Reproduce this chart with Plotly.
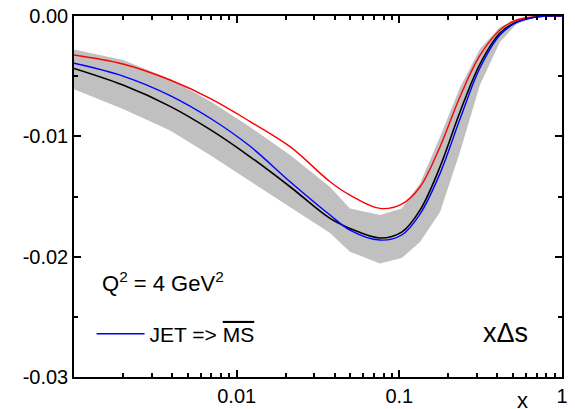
import plotly.graph_objects as go

# ---- data ----
x_vals = [0.001, 0.002, 0.0039, 0.007, 0.0121, 0.0213, 0.0375, 0.0497, 0.076, 0.1034,
          0.134, 0.178, 0.236, 0.313, 0.4155, 0.5265, 0.663, 0.84, 1.0]
y_black = [-0.00436, -0.00574, -0.00751, -0.00951, -0.0117, -0.01419, -0.01682, -0.01765,
           -0.01845, -0.01796, -0.01613, -0.01253, -0.00798, -0.00399, -0.00141, -0.0005,
           -0.00012, 0.0, 0.0]
y_blue = [-0.00393, -0.00499, -0.00661, -0.00856, -0.01083, -0.01377, -0.01654, -0.01779,
          -0.01862, -0.0182, -0.01646, -0.01308, -0.00856, -0.00432, -0.00158, -0.00054,
          -0.00012, 0.0, 0.0]
y_red = [-0.00324, -0.00399, -0.00532, -0.0069, -0.00877, -0.01086, -0.01377, -0.01488,
         -0.01599, -0.01563, -0.01421, -0.01086, -0.00671, -0.00328, -0.00116, -0.00033,
         -0.00008, 0.0, 0.0]
band_upper = [-0.00278, -0.00366, -0.00524, -0.00715, -0.00923, -0.01155, -0.01421, -0.01599,
              -0.01654, -0.01599, -0.01391, -0.01003, -0.00594, -0.00274, -0.00091, -0.00025,
              -0.00004, 0.0, 0.0]
band_lower = [-0.00609, -0.00773, -0.00952, -0.01164, -0.01376, -0.01588, -0.01804, -0.01959,
              -0.02056, -0.02012, -0.01879, -0.01629, -0.01131, -0.00574, -0.00216, -0.00067,
              -0.00017, 0.0, 0.0]

x_tickvals = [0.01, 0.1, 1]
x_ticktext = ["0.01", "0.1", "1"]
x_minor = [k * 10.0 ** e for e in (-3, -2, -1) for k in range(2, 10)]
y_tickvals = [0.0, -0.01, -0.02, -0.03]
y_ticktext = ["0.00", "-0.01", "-0.02", "-0.03"]
y_minor = [-0.005, -0.015, -0.025]

FONT = "Liberation Sans, Arial, sans-serif"
LINE_SPLINE = dict(shape="spline", smoothing=1.0)

fig = go.Figure()
fig.add_trace(go.Scatter(
    x=x_vals + x_vals[::-1], y=band_upper + band_lower[::-1],
    fill="toself", fillcolor="#c0c0c0", line=dict(width=0),
    mode="lines", showlegend=False, hoverinfo="skip"))
fig.add_trace(go.Scatter(x=x_vals, y=y_black, mode="lines", showlegend=False,
                         line=dict(color="black", width=1.6, **LINE_SPLINE)))
fig.add_trace(go.Scatter(x=x_vals, y=y_red, mode="lines", showlegend=False,
                         line=dict(color="#ff0000", width=1.4, **LINE_SPLINE)))
fig.add_trace(go.Scatter(x=x_vals, y=y_blue, mode="lines", showlegend=True,
                         name='JET => <span style="text-decoration:overline">MS</span>',
                         line=dict(color="#0000ff", width=1.4, **LINE_SPLINE)))
# empty trace so the minor-tick overlay axes exist
fig.add_trace(go.Scatter(x=[], y=[], xaxis="x2", yaxis="y2", showlegend=False,
                         hoverinfo="skip"))

base = dict(showline=True, linewidth=1.5, linecolor="black", mirror="ticks",
            showgrid=False, zeroline=False, automargin=False, tickcolor="black",
            ticks="inside", tickwidth=1.5)

fig.update_layout(
    template="simple_white",
    width=575, height=409,
    margin=dict(l=74, r=13, t=16, b=32),
    paper_bgcolor="white", plot_bgcolor="white",
    font=dict(family=FONT, color="black", size=20),
    legend=dict(x=0.036, y=0.119, xanchor="left", yanchor="middle",
                bgcolor="rgba(0,0,0,0)", borderwidth=0,
                font=dict(size=21, family=FONT), itemwidth=48),
    xaxis=dict(type="log", range=[-3, 0], tickvals=x_tickvals, ticktext=x_ticktext,
               ticklen=7, tickfont=dict(size=20, family=FONT), **base),
    yaxis=dict(range=[-0.03, 0], tickvals=y_tickvals, ticktext=y_ticktext,
               ticklen=7, tickfont=dict(size=20, family=FONT), **base),
    xaxis2=dict(type="log", range=[-3, 0], overlaying="x", anchor="y2", side="bottom",
                tickvals=x_minor, ticklen=4, showticklabels=False, **base),
    yaxis2=dict(range=[-0.03, 0], overlaying="y", anchor="x2", side="left",
                tickvals=y_minor, ticklen=4, showticklabels=False, **base),
    annotations=[
        dict(text="Q<sup>2</sup> = 4 GeV<sup>2</sup>", x=0.053, y=0.263,
             xref="paper", yref="paper", xanchor="left", yanchor="middle",
             showarrow=False, font=dict(size=22, family=FONT)),
        dict(text="xΔs", x=0.834, y=0.122, xref="paper", yref="paper",
             xanchor="left", yanchor="middle", showarrow=False,
             font=dict(size=27, family=FONT)),
        dict(text="x", x=0.92, y=-0.064, xref="paper", yref="paper",
             xanchor="center", yanchor="middle", showarrow=False,
             font=dict(size=22, family=FONT)),
    ],
)

fig.write_html("out.html", config={"displayModeBar": False},
               post_script="document.body.style.margin='0';document.body.style.padding='0';")
